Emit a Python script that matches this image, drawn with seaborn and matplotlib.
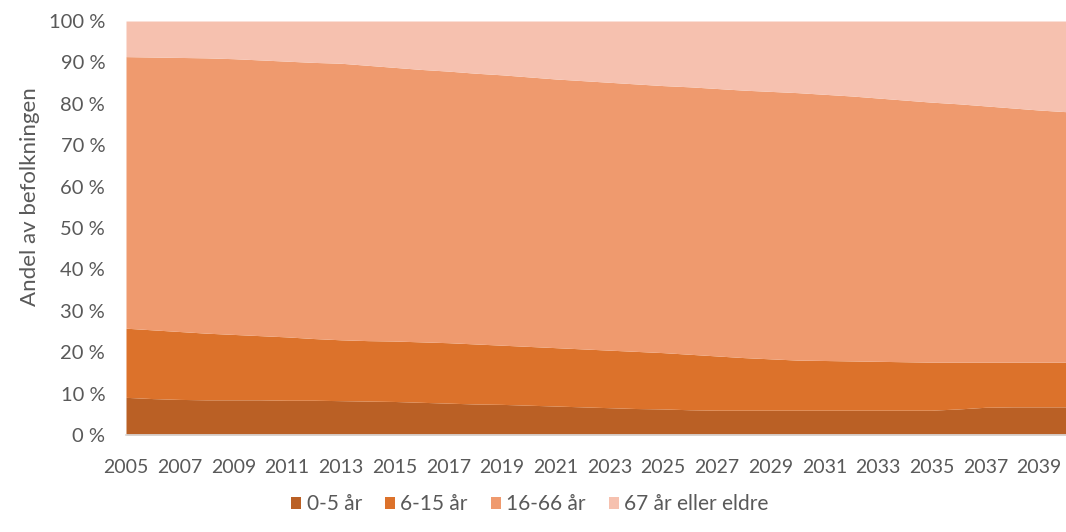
import numpy as np
import pandas as pd
import matplotlib
matplotlib.use("Agg")
import matplotlib.pyplot as plt
import seaborn as sns
from matplotlib.patches import Patch

years = list(range(2005, 2041))
age_0_5 = [9.1, 8.8, 8.6, 8.5, 8.5, 8.5, 8.4, 8.4, 8.3, 8.2, 8.1, 7.9, 7.7, 7.5, 7.4, 7.2, 7.0, 6.8,
           6.6, 6.4, 6.3, 6.1, 6.0, 6.0, 6.0, 6.0, 6.0, 6.0, 6.0, 6.0, 6.0, 6.3, 6.7, 6.8, 6.8, 6.8]
age_6_15 = [16.7, 16.6, 16.4, 16.1, 15.8, 15.5, 15.3, 14.9, 14.7, 14.6, 14.6, 14.6, 14.6, 14.5, 14.3, 14.2,
            14.1, 14.0, 13.9, 13.8, 13.6, 13.4, 13.1, 12.7, 12.4, 12.1, 12.0, 11.9, 11.8, 11.7, 11.6, 11.3,
            10.9, 10.8, 10.8, 10.8]
age_16_66 = [65.6, 65.9, 66.2, 66.5, 66.6, 66.6, 66.6, 66.7, 66.8, 66.5, 66.1, 65.8, 65.6, 65.4, 65.3, 65.1,
             64.9, 64.8, 64.7, 64.6, 64.5, 64.6, 64.6, 64.6, 64.6, 64.6, 64.3, 64.0, 63.6, 63.2, 62.8, 62.4,
             61.9, 61.4, 60.9, 60.5]
age_67 = [8.6, 8.7, 8.8, 8.9, 9.1, 9.4, 9.7, 10.0, 10.2, 10.7, 11.2, 11.7, 12.1, 12.6, 13.0, 13.5, 14.0,
          14.4, 14.8, 15.2, 15.6, 15.9, 16.3, 16.7, 17.0, 17.3, 17.7, 18.1, 18.6, 19.1, 19.6, 20.0, 20.5,
          21.0, 21.5, 21.9]
series_names = ["0-5 år", "6-15 år", "16-66 år", "67 år eller eldre"]
tick_years = list(range(2005, 2040, 2))
colors = ["#BA6025", "#DC722B", "#EF9A6E", "#F6C1AF"]

sns.set_theme(style="white")
plt.rcParams["font.family"] = ["Lato", "DejaVu Sans"]

df = pd.DataFrame({"year": years, series_names[0]: age_0_5, series_names[1]: age_6_15,
                   series_names[2]: age_16_66, series_names[3]: age_67})
vals = df[series_names].to_numpy()
vals = vals / vals.sum(axis=1, keepdims=True) * 100

fig = plt.figure(figsize=(10.66, 5.32), dpi=100)
ax = fig.add_axes([0.1182, 0.1823, 0.8818, 0.7782])
ax.stackplot(df["year"], vals.T, colors=colors, linewidth=0)
ax.set_xlim(2005, 2040)
ax.set_ylim(0, 100)
ax.set_yticks(range(0, 101, 10))
ax.set_yticklabels([f"{v} %" for v in range(0, 101, 10)])
ax.set_xticks(tick_years)
ax.set_xticklabels([str(y) for y in tick_years])
ax.tick_params(axis="both", colors="#595959", labelsize=14, length=0)
ax.tick_params(axis="y", labelsize=14.5, pad=15)
ax.tick_params(axis="x", pad=17.5)
ax.set_ylabel("Andel av befolkningen", fontsize=16, color="#595959")
ax.yaxis.set_label_coords(-0.091, 0.575)
for s in ["top", "right", "left"]:
    ax.spines[s].set_visible(False)
ax.spines["bottom"].set_color("#D9D9D9")

handles = [Patch(facecolor=c, edgecolor="none") for c in colors]
fig.legend(handles, series_names, loc="center", bbox_to_anchor=(0.497, 0.052), ncol=4, frameon=False,
           fontsize=15, labelcolor="#595959", handlelength=0.5, handleheight=0.5, handletextpad=0.25,
           columnspacing=1.1)

fig.savefig("out.png", dpi=100)
